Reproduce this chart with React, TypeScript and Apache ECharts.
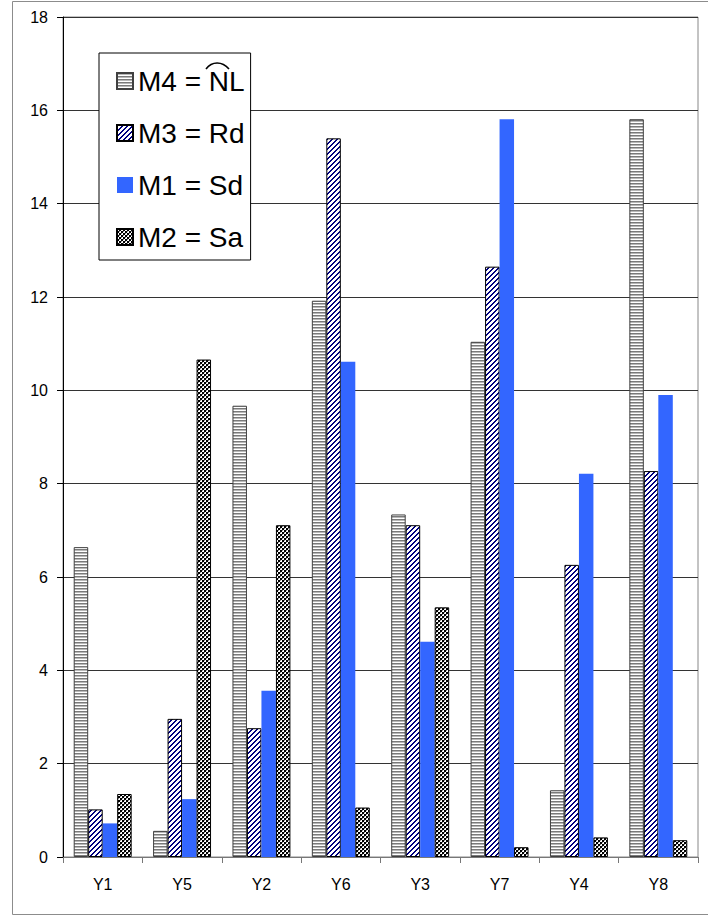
import React, { useEffect, useRef } from "react";
import * as echarts from "echarts";

const categories = ["Y1", "Y5", "Y2", "Y6", "Y3", "Y7", "Y4", "Y8"];
const seriesNames = ["M4 = NL", "M3 = Rd", "M1 = Sd", "M2 = Sa"];
const m4Values = [6.64, 0.56, 9.67, 11.92, 7.34, 11.04, 1.43, 15.81];
const m3Values = [1.02, 2.96, 2.76, 15.4, 7.11, 12.65, 6.26, 8.27];
const m1Values = [0.72, 1.24, 3.56, 10.61, 4.61, 15.81, 8.21, 9.9];
const m2Values = [1.35, 10.66, 7.11, 1.06, 5.35, 0.21, 0.42, 0.36];

const FONT = "Liberation Sans, Arial, sans-serif";

function makeCanvas(w: number, h: number, draw: (ctx: CanvasRenderingContext2D) => void) {
  const c = document.createElement("canvas");
  c.width = w;
  c.height = h;
  const ctx = c.getContext("2d")!;
  draw(ctx);
  return c;
}

function horizontalPattern() {
  const c = makeCanvas(3, 3, (ctx) => {
    ctx.fillStyle = "#ffffff";
    ctx.fillRect(0, 0, 3, 3);
    ctx.fillStyle = "#7a7a7a";
    ctx.fillRect(0, 0, 3, 1);
    ctx.fillStyle = "#b8b8b8";
    ctx.fillRect(0, 1, 3, 1);
  });
  return { image: c, repeat: "repeat", imageWidth: 3, imageHeight: 3 };
}

function diagonalPattern() {
  const n = 5;
  const c = makeCanvas(n, n, (ctx) => {
    ctx.fillStyle = "#ffffff";
    ctx.fillRect(0, 0, n, n);
    ctx.fillStyle = "#000080";
    for (let x = 0; x < n; x++) {
      for (let y = 0; y < n; y++) {
        if ((x + y) % n < 2) ctx.fillRect(x, y, 1, 1);
      }
    }
  });
  return { image: c, repeat: "repeat", imageWidth: n, imageHeight: n };
}

function dotPattern() {
  const c = makeCanvas(4, 4, (ctx) => {
    ctx.fillStyle = "#000000";
    ctx.fillRect(0, 0, 4, 4);
    ctx.fillStyle = "#ffffff";
    ctx.fillRect(0, 0, 2, 2);
    ctx.fillRect(2, 2, 2, 2);
    ctx.fillStyle = "#8a8a8a";
    ctx.fillRect(0, 0, 1, 1);
    ctx.fillRect(2, 2, 1, 1);
  });
  return { image: c, repeat: "repeat", imageWidth: 4, imageHeight: 4 };
}

export default function App() {
  const ref = useRef<HTMLDivElement>(null);

  useEffect(() => {
    if (!ref.current) return;
    const chart = echarts.init(ref.current, null, { renderer: "svg" });
    const values = [m4Values, m3Values, m1Values, m2Values];
    const styles: any[] = [
      { color: horizontalPattern(), borderColor: "#404040", borderWidth: 1 },
      { color: diagonalPattern(), borderColor: "#000000", borderWidth: 1 },
      { color: "#3366ff", borderWidth: 0 },
      { color: dotPattern(), borderColor: "#000000", borderWidth: 1 },
    ];
    chart.setOption({
      animation: false,
      backgroundColor: "#ffffff",
      grid: {
        left: 63,
        right: 10,
        top: 17,
        bottom: 60,
        show: true,
        borderColor: "#888888",
        borderWidth: 1,
        backgroundColor: "transparent",
      },
      legend: {
        orient: "vertical",
        left: 99,
        top: 53,
        padding: [14, 6, 9, 17],
        itemGap: 24,
        itemWidth: 16,
        itemHeight: 16,
        itemTextGap: 7,
        icon: "rect",
        backgroundColor: "#ffffff",
        borderColor: "#000000",
        borderWidth: 1,
        borderRadius: 0,
        selectedMode: false,
        textStyle: { fontFamily: FONT, fontSize: 28, lineHeight: 28, color: "#000000" },
        data: seriesNames,
      },
      xAxis: {
        type: "category",
        data: categories,
        axisLine: { show: true, lineStyle: { color: "#777777", width: 1 } },
        axisTick: { show: true, length: 6, lineStyle: { color: "#777777" } },
        axisLabel: { fontFamily: FONT, fontSize: 16, color: "#000000", margin: 19 },
        splitLine: { show: false },
      },
      yAxis: {
        type: "value",
        min: 0,
        max: 18,
        interval: 2,
        axisLine: { show: true, lineStyle: { color: "#000000", width: 1 } },
        axisTick: { show: true, length: 6, lineStyle: { color: "#000000" } },
        axisLabel: { fontFamily: FONT, fontSize: 16, color: "#000000", margin: 15 },
        splitLine: { show: true, lineStyle: { color: "#333333", width: 1 } },
      },
      graphic: [
        {
          type: "rect",
          shape: { x: 12.5, y: 1.5, width: 720, height: 913 },
          style: { fill: "none", stroke: "#8c8c8c", lineWidth: 1 },
          silent: true,
          z: 100,
        },
        {
          type: "bezierCurve",
          shape: { x1: 206, y1: 69, cpx1: 212, cpy1: 61, cpx2: 222, cpy2: 61, x2: 229, y2: 69 },
          style: { fill: "none", stroke: "#000000", lineWidth: 1.6 },
          silent: true,
          z: 100,
        },
      ],
      series: seriesNames.map((name, i) => ({
        name,
        type: "bar",
        data: values[i],
        barGap: "0%",
        barCategoryGap: "27%",
        itemStyle: styles[i],
        emphasis: { disabled: true },
      })),
    });
    return () => chart.dispose();
  }, []);

  return (
    <div
      ref={ref}
      style={{ position: "fixed", left: 0, top: 0, width: 708, height: 917, background: "#fff" }}
    />
  );
}
